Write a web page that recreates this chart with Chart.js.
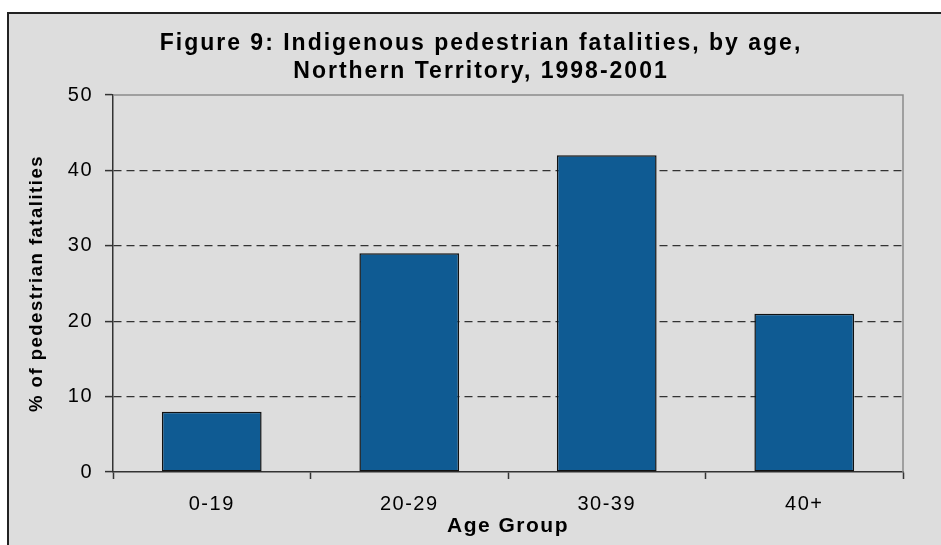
<!DOCTYPE html>
<html>
<head>
<meta charset="utf-8">
<script src="https://cdn.jsdelivr.net/npm/chart.js@4.4.0/dist/chart.umd.min.js"></script>
<style>
    html, body { margin: 0; padding: 0; background: #fff; }
    #wrap { position: relative; width: 941px; height: 545px; overflow: hidden; }
    #frame {
        position: absolute; left: 7px; top: 12px; width: 980px; height: 580px;
        background: #dddddd; border: 2px solid #222; box-sizing: border-box;
    }
    #chart { position: absolute; left: 0; top: 0; }
</style>
</head>
<body>
<div id="wrap">
    <div id="frame"></div>
    <canvas id="chart" width="941" height="545"></canvas>
</div>
<script>
// chart data
const titleLines = ['Figure 9: Indigenous pedestrian fatalities, by age,', 'Northern Territory, 1998-2001'];
const ageGroups = ['0-19', '20-29', '30-39', '40+'];
const fatalityPct = [8, 29, 42, 21];
const yTicks = [0, 10, 20, 30, 40, 50];
const yTitle = '% of pedestrian fatalities';
const xTitle = 'Age Group';

const FONT = "'Liberation Sans', Arial, sans-serif";

// title drawn by hand so it can get the spaced-out letters of the original
const figureTitle = {
    id: 'figureTitle',
    beforeDraw(chart) {
        chart.ctx.letterSpacing = '1.5px';
    },
    afterDraw(chart) {
        const ctx = chart.ctx;
        ctx.save();
        ctx.letterSpacing = '2px';
        ctx.font = 'bold 23px ' + FONT;
        ctx.fillStyle = '#000';
        ctx.textAlign = 'center';
        ctx.textBaseline = 'middle';
        titleLines.forEach(function(line, i) {
            ctx.fillText(line, 481, 44 + i * 28);
        });
        ctx.restore();
    }
};

// grey top / right edge of the plot area
const plotFrame = {
    id: 'plotFrame',
    beforeDatasetsDraw(chart) {
        const a = chart.chartArea;
        const ctx = chart.ctx;
        ctx.save();
        ctx.strokeStyle = '#8a8a8a';
        ctx.lineWidth = 1.5;
        ctx.beginPath();
        ctx.moveTo(a.left, a.top);
        ctx.lineTo(a.right, a.top);
        ctx.lineTo(a.right, a.bottom);
        ctx.stroke();
        ctx.restore();
    }
};

new Chart(document.getElementById('chart'), {
    type: 'bar',
    data: {
        labels: ageGroups,
        datasets: [{
            data: fatalityPct,
            backgroundColor: '#0f5b93',
            borderColor: '#111',
            borderWidth: 1.5,
            borderSkipped: false,
            categoryPercentage: 1,
            barPercentage: 0.505
        }]
    },
    options: {
        responsive: false,
        animation: false,
        layout: {
            padding: { left: 10, right: 38, top: 95, bottom: 5 }
        },
        plugins: {
            legend: { display: false },
            title: { display: false },
            tooltip: { enabled: false }
        },
        scales: {
            x: {
                grid: {
                    offset: true,
                    drawOnChartArea: false,
                    tickLength: 7,
                    tickColor: '#333',
                    tickWidth: 1.5
                },
                border: { color: '#333', width: 1.5 },
                ticks: {
                    color: '#000',
                    padding: 13,
                    font: { family: FONT, size: 20 }
                },
                title: {
                    display: true,
                    text: xTitle,
                    color: '#000',
                    padding: { top: 0, bottom: 1 },
                    font: { family: FONT, size: 21, weight: 'bold' }
                },
                afterFit: function(scale) { scale.height = 68; }
            },
            y: {
                min: 0,
                max: 50,
                afterBuildTicks: function(scale) {
                    scale.ticks = yTicks.map(function(v) { return { value: v }; });
                },
                grid: {
                    color: function(c) {
                        return (c.tick && (c.tick.value === 0 || c.tick.value === 50)) ? 'rgba(0,0,0,0)' : '#333';
                    },
                    lineWidth: 1.2,
                    tickLength: 8,
                    tickColor: '#333',
                    tickWidth: 1.5
                },
                border: { color: '#333', width: 1.5, dash: [8, 5] },
                ticks: {
                    color: '#000',
                    padding: 12,
                    font: { family: FONT, size: 20 }
                },
                title: {
                    display: true,
                    text: yTitle,
                    color: '#000',
                    padding: { top: 16, bottom: 0 },
                    font: { family: FONT, size: 18.5, weight: 'bold' }
                },
                afterFit: function(scale) { scale.width = 103; }
            }
        }
    },
    plugins: [plotFrame, figureTitle]
});
</script>
</body>
</html>
